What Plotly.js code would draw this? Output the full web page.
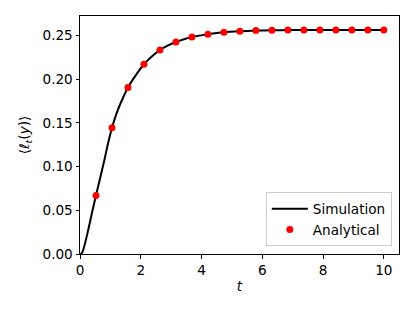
<!DOCTYPE html>
<html>
<head>
<meta charset="utf-8">
<script src="https://cdn.plot.ly/plotly-3.0.1.min.js"></script>
<style>html,body{margin:0;padding:0;background:#fff;}#chart{width:415px;height:312px;}</style>
</head>
<body>
<div id="chart"></div>
<script>
// Simulation curve
const simT = [0, 0.05, 0.1, 0.2, 0.3, 0.4, 0.526, 0.65, 0.8, 0.92, 1.053, 1.2, 1.35, 1.579, 1.85, 2.105, 2.4, 2.632, 2.9, 3.158, 3.42, 3.684, 4.211, 4.737, 5.263, 5.789, 6.316, 6.842, 7.368, 7.895, 8.421, 8.947, 9.474, 10];
const simY = [0, 0.0005, 0.004, 0.017, 0.032, 0.048, 0.0668, 0.085, 0.107, 0.126, 0.1443, 0.1605, 0.1735, 0.1904, 0.205, 0.2169, 0.227, 0.2332, 0.2385, 0.2424, 0.2456, 0.2481, 0.2511, 0.2534, 0.2546, 0.2554, 0.2557, 0.2560, 0.2561, 0.2561, 0.2561, 0.2561, 0.2561, 0.2561];
// Analytical points
const anaT = [0.526, 1.053, 1.579, 2.105, 2.632, 3.158, 3.684, 4.211, 4.737, 5.263, 5.789, 6.316, 6.842, 7.368, 7.895, 8.421, 8.947, 9.474, 10];
const anaY = [0.0668, 0.1443, 0.1904, 0.2169, 0.2332, 0.2424, 0.2481, 0.2511, 0.2534, 0.2546, 0.2554, 0.2557, 0.2560, 0.2561, 0.2561, 0.2561, 0.2561, 0.2561, 0.2561];
const xTicks = [0, 2, 4, 6, 8, 10];
const yTicks = [0, 0.05, 0.10, 0.15, 0.20, 0.25];

const font = {family: 'DejaVu Sans, sans-serif', size: 13.6, color: '#000'};
const traces = [
  {x: simT, y: simY, mode: 'lines', name: 'Simulation',
   line: {color: '#000', width: 2, shape: 'spline', smoothing: 0.5}},
  {x: anaT, y: anaY, mode: 'markers', name: 'Analytical',
   marker: {color: '#ff0000', size: 7}}
];
const axisCommon = {
  showline: true, mirror: true, linecolor: '#000', linewidth: 1,
  ticks: 'outside', ticklen: 3.5, tickwidth: 1, tickcolor: '#000',
  showgrid: false, zeroline: false, tickfont: font, fixedrange: true
};
const layout = {
  width: 415, height: 312,
  margin: {l: 80, r: 15.5, t: 15.5, b: 57.7},
  paper_bgcolor: '#fff', plot_bgcolor: '#fff',
  font: font,
  showlegend: true,
  xaxis: Object.assign({}, axisCommon, {
    range: [0, 10.5], tickvals: xTicks, ticktext: xTicks.map(String),
    title: {text: '<i>t</i>', font: font, standoff: 4}
  }),
  yaxis: Object.assign({}, axisCommon, {
    range: [0, 0.2721], tickvals: yTicks, ticktext: yTicks.map(v => v.toFixed(2)),
    title: {text: '⟨<i>ℓ</i><sub><i>t</i></sub>(<i>y</i>)⟩', font: font, standoff: 9}
  }),
  legend: {
    x: 0.9775, xanchor: 'right', y: 0.032, yanchor: 'bottom',
    bgcolor: 'rgba(255,255,255,0.8)', bordercolor: '#cccccc', borderwidth: 1,
    font: font, itemwidth: 36
  }
};
Plotly.newPlot('chart', traces, layout, {displayModeBar: false, staticPlot: true});
</script>
</body>
</html>
